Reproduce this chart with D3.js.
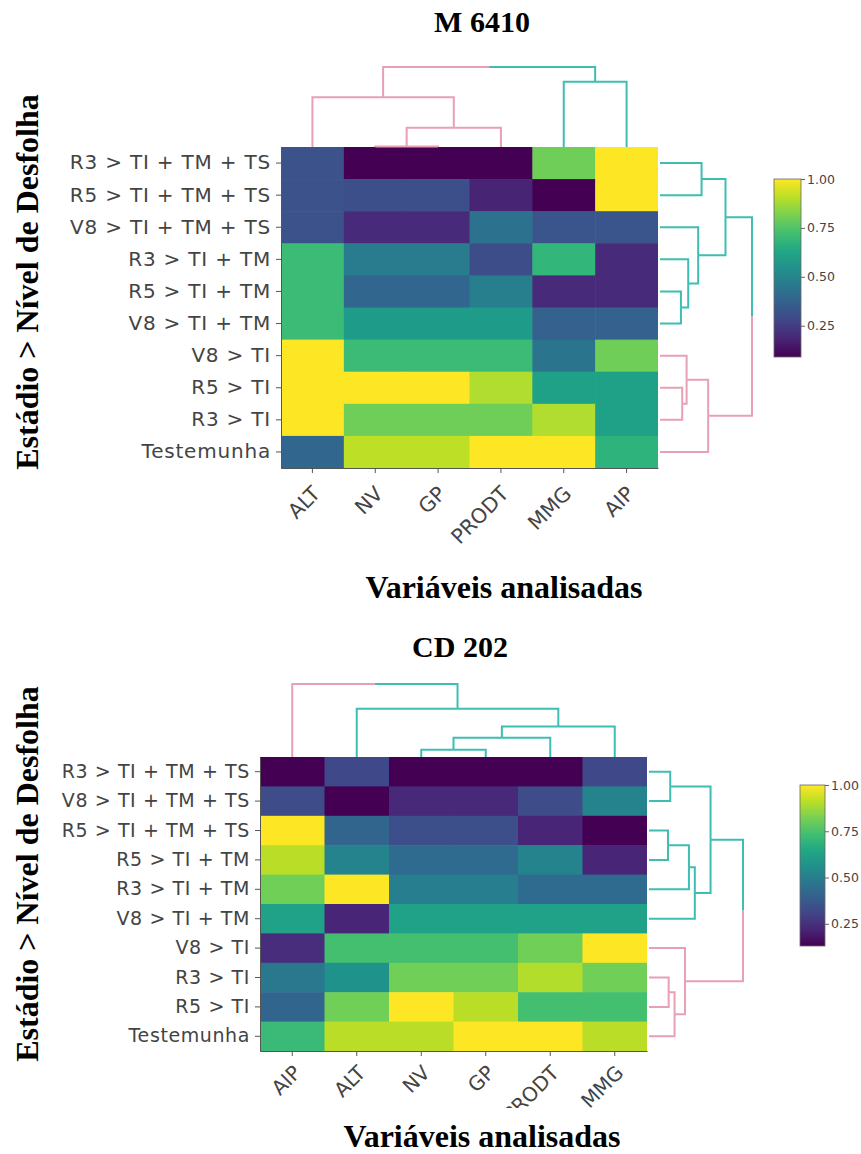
<!DOCTYPE html>
<html>
<head>
<meta charset="utf-8">
<script src="https://cdn.jsdelivr.net/npm/d3@7"></script>
<style>
  body { margin: 0; background: #fff; }
  svg { display: block; }
</style>
</head>
<body>
<div id="chart"></div>
<script>
// ---- M 6410 ----
const rowsM = ["R3 > TI + TM + TS", "R5 > TI + TM + TS", "V8 > TI + TM + TS", "R3 > TI + TM", "R5 > TI + TM",
  "V8 > TI + TM", "V8 > TI", "R5 > TI", "R3 > TI", "Testemunha"];
const colsM = ["ALT", "NV", "GP", "PRODT", "MMG", "AIP"];
const valuesM = [
  [0.32, 0.09, 0.09, 0.09, 0.80, 1.00],
  [0.32, 0.31, 0.31, 0.18, 0.09, 1.00],
  [0.32, 0.20, 0.20, 0.43, 0.33, 0.33],
  [0.71, 0.47, 0.47, 0.30, 0.69, 0.20],
  [0.71, 0.39, 0.39, 0.48, 0.20, 0.20],
  [0.71, 0.59, 0.59, 0.59, 0.37, 0.37],
  [1.00, 0.71, 0.71, 0.71, 0.44, 0.80],
  [1.00, 1.00, 1.00, 0.89, 0.61, 0.61],
  [1.00, 0.80, 0.80, 0.80, 0.89, 0.61],
  [0.39, 0.91, 0.91, 1.00, 1.00, 0.68]
];
// merges: [child a, child b, height]; leaves are 0..n-1, merge k becomes n+k
const colMergesM = [[1, 2, 0.4], [6, 3, 19.3], [0, 7, 49.7], [4, 5, 65.3], [8, 9, 80]];
const colGroupsM = ["p", "p", "p", "p", "t", "t"];
const rowMergesM = [[0, 1, 41.7], [4, 5, 21], [3, 11, 28.3], [2, 12, 38.3], [10, 13, 65.7],
  [7, 8, 22.3], [6, 15, 26.7], [16, 9, 48.3], [14, 17, 92.3]];
const rowGroupsM = ["t", "t", "t", "t", "t", "t", "p", "p", "p", "p"];

// ---- CD 202 ----
const rowsC = ["R3 > TI + TM + TS", "V8 > TI + TM + TS", "R5 > TI + TM + TS", "R5 > TI + TM", "R3 > TI + TM",
  "V8 > TI + TM", "V8 > TI", "R3 > TI", "R5 > TI", "Testemunha"];
const colsC = ["AIP", "ALT", "NV", "GP", "PRODT", "MMG"];
const valuesC = [
  [0.13, 0.32, 0.13, 0.13, 0.13, 0.32],
  [0.33, 0.13, 0.23, 0.23, 0.33, 0.52],
  [1.00, 0.41, 0.34, 0.34, 0.22, 0.13],
  [0.91, 0.52, 0.43, 0.43, 0.52, 0.22],
  [0.81, 1.00, 0.50, 0.50, 0.43, 0.43],
  [0.63, 0.22, 0.63, 0.63, 0.63, 0.63],
  [0.24, 0.74, 0.74, 0.74, 0.81, 1.00],
  [0.48, 0.57, 0.81, 0.81, 0.90, 0.81],
  [0.41, 0.81, 1.00, 0.91, 0.74, 0.74],
  [0.72, 0.91, 0.91, 1.00, 1.00, 0.91]
];
const colMergesC = [[2, 3, 7.4], [6, 4, 19.4], [7, 5, 30.7], [1, 8, 48.4], [0, 9, 73.4]];
const colGroupsC = ["p", "t", "t", "t", "t", "t"];
const rowMergesC = [[0, 1, 21.6], [2, 3, 19.3], [11, 4, 40.6], [12, 5, 46.6], [10, 13, 62.6],
  [7, 8, 20], [15, 9, 26], [6, 16, 36.6], [14, 17, 95.6]];
const rowGroupsC = ["t", "t", "t", "t", "t", "t", "p", "p", "p", "p"];

const colorbarTicks = [0.25, 0.5, 0.75, 1.0];

const branchColor = {p: "#e8a0b5", t: "#3fbdb2"};
const W = 861, H = 1154;
const sans = "'DejaVu Sans', Verdana, sans-serif";
const serif = "'Liberation Serif', 'Times New Roman', serif";

const svg = d3.select("#chart").append("svg")
  .attr("width", W).attr("height", H);
svg.append("rect").attr("width", W).attr("height", H).attr("fill", "#fff");

// lay out a dendrogram: returns list of polylines [{pts:[[pos,h],...], g}]
const dendroSegments = function(merges, groups, pos){
  const n = groups.length;
  const p = groups.map((d, i) => pos(i));
  const h = groups.map(() => 0);
  const g = groups.slice();
  const segs = [];
  merges.forEach(function(m, k){
    const a = m[0], b = m[1], hh = m[2];
    const mid = (p[a] + p[b]) / 2;
    segs.push({pts: [[p[a], h[a]], [p[a], hh], [mid, hh]], g: g[a]});
    segs.push({pts: [[mid, hh], [p[b], hh], [p[b], h[b]]], g: g[b]});
    p[n + k] = mid;
    h[n + k] = hh;
    g[n + k] = g[a] === g[b] ? g[a] : null;
  });
  return segs;
};

const drawMap = function(o){
  const root = svg.append("g");
  const x = d3.scaleBand().domain(o.cols).range([o.left, o.right]);
  const y = d3.scaleBand().domain(o.rows).range([o.top, o.bottom]);
  const allVals = o.values.flat();
  const color = d3.scaleSequential(d3.interpolateViridis).domain(d3.extent(allVals));

  const cells = [];
  o.values.forEach((r, i) => r.forEach((v, j) => cells.push({row: o.rows[i], col: o.cols[j], v: v})));
  root.append("g").selectAll("rect").data(cells).enter().append("rect")
    .attr("x", d => x(d.col)).attr("y", d => y(d.row))
    .attr("width", x.bandwidth() + 0.6).attr("height", y.bandwidth() + 0.6)
    .attr("fill", d => color(d.v));
  // cover the overflow of last column
  root.append("rect").attr("x", o.right).attr("y", o.top - 1).attr("width", 1).attr("height", o.bottom - o.top + 2).attr("fill", "#fff");

  // axes
  const yAxis = root.append("g").attr("transform", `translate(${o.left},0)`)
    .call(d3.axisLeft(y).tickSize(5).tickSizeOuter(0).tickPadding(5));
  yAxis.selectAll("text").style("font-family", sans).style("font-size", o.rowFont + "px")
    .style("letter-spacing", o.rowSpacing + "px").attr("fill", "#444");
  const xAxis = root.append("g").attr("transform", `translate(0,${o.bottom})`)
    .call(d3.axisBottom(x).tickSize(5).tickSizeOuter(0));
  xAxis.selectAll("text")
    .attr("y", 0).attr("dy", null)
    .attr("text-anchor", "end")
    .attr("transform", `translate(${o.colDx},${o.colDy}) rotate(-45)`)
    .style("font-family", sans).style("font-size", o.colFont + "px").attr("fill", "#444");
  if(o.clipY){
    const id = "clip" + o.id;
    svg.append("clipPath").attr("id", id).append("rect").attr("x", 0).attr("y", 0).attr("width", W).attr("height", o.clipY - o.bottom);
    xAxis.attr("clip-path", `url(#${id})`);
  }
  root.selectAll(".domain, .tick line").attr("stroke", "#555").attr("stroke-width", 1);

  // column dendrogram (above)
  const colH = d3.scaleLinear().domain([0, d3.max(o.colMerges, d => d[2])]).range([o.top, o.top - o.colDepth]);
  const colSegs = dendroSegments(o.colMerges, o.colGroups, i => x(o.cols[i]) + x.bandwidth() / 2);
  const colLine = d3.line().x(d => d[0]).y(d => colH(d[1]));
  root.append("g").selectAll("path").data(colSegs).enter().append("path")
    .attr("d", d => colLine(d.pts)).attr("fill", "none")
    .attr("stroke", d => branchColor[d.g] || "#999").attr("stroke-width", 2);

  // row dendrogram (right)
  const rowH = d3.scaleLinear().domain([0, d3.max(o.rowMerges, d => d[2])]).range([o.right + 2, o.right + 2 + o.rowDepth]);
  const rowSegs = dendroSegments(o.rowMerges, o.rowGroups, i => y(o.rows[i]) + y.bandwidth() / 2);
  const rowLine = d3.line().x(d => rowH(d[1])).y(d => d[0]);
  root.append("g").selectAll("path").data(rowSegs).enter().append("path")
    .attr("d", d => rowLine(d.pts)).attr("fill", "none")
    .attr("stroke", d => branchColor[d.g] || "#999").attr("stroke-width", 2);

  // colorbar
  const cb = o.cb;
  const gradId = "grad" + o.id;
  const grad = svg.append("defs").append("linearGradient").attr("id", gradId)
    .attr("x1", 0).attr("y1", 1).attr("x2", 0).attr("y2", 0);
  d3.range(0, 1.0001, 0.1).forEach(function(t){
    grad.append("stop").attr("offset", t).attr("stop-color", d3.interpolateViridis(t));
  });
  root.append("rect").attr("x", cb.x).attr("y", cb.y).attr("width", cb.w).attr("height", cb.h)
    .attr("fill", `url(#${gradId})`).attr("stroke", "#666").attr("stroke-width", 0.8);
  const cbScale = d3.scaleLinear().domain(d3.extent(allVals)).range([cb.y + cb.h, cb.y]);
  const cbAxis = root.append("g").attr("transform", `translate(${cb.x + cb.w},0)`)
    .call(d3.axisRight(cbScale).tickValues(colorbarTicks).tickFormat(d3.format(".2f")).tickSize(4).tickPadding(2));
  cbAxis.select(".domain").remove();
  cbAxis.selectAll("line").attr("stroke", "#666");
  cbAxis.selectAll("text").style("font-family", sans).style("font-size", "12.5px").attr("fill", "#444");

  // titles
  root.append("text").attr("x", o.title.x).attr("y", o.title.y).attr("text-anchor", "middle")
    .style("font-family", serif).style("font-weight", "bold").style("font-size", "30px").text(o.title.text);
  root.append("text").attr("transform", `translate(${o.yTitle.x},${o.yTitle.y}) rotate(-90)`).attr("text-anchor", "middle")
    .style("font-family", serif).style("font-weight", "bold").style("font-size", "32px").text("Estádio > Nível de Desfolha");
  root.append("text").attr("x", o.xTitle.x).attr("y", o.xTitle.y).attr("text-anchor", "middle")
    .style("font-family", serif).style("font-weight", "bold").style("font-size", "32px").text("Variáveis analisadas");
};

drawMap({
  id: "M", rows: rowsM, cols: colsM, values: valuesM,
  colMerges: colMergesM, colGroups: colGroupsM, rowMerges: rowMergesM, rowGroups: rowGroupsM,
  left: 281, right: 658, top: 147, bottom: 468,
  colDepth: 80, rowDepth: 92,
  rowFont: 20, rowSpacing: 0.8, colFont: 20.5, colDx: 9, colDy: 27,
  cb: {x: 774, y: 179, w: 27, h: 178},
  title: {text: "M 6410", x: 482, y: 32},
  yTitle: {x: 38, y: 282},
  xTitle: {x: 504, y: 598}
});

drawMap({
  id: "C", rows: rowsC, cols: colsC, values: valuesC,
  colMerges: colMergesC, colGroups: colGroupsC, rowMerges: rowMergesC, rowGroups: rowGroupsC,
  left: 260, right: 647, top: 757, bottom: 1051,
  colDepth: 73, rowDepth: 94,
  rowFont: 19, rowSpacing: 0.6, colFont: 20, colDx: 10, colDy: 23,
  clipY: 1108,
  cb: {x: 800, y: 785, w: 25, h: 161},
  title: {text: "CD 202", x: 460, y: 657},
  yTitle: {x: 38, y: 874},
  xTitle: {x: 482, y: 1147}
});
</script>
</body>
</html>
